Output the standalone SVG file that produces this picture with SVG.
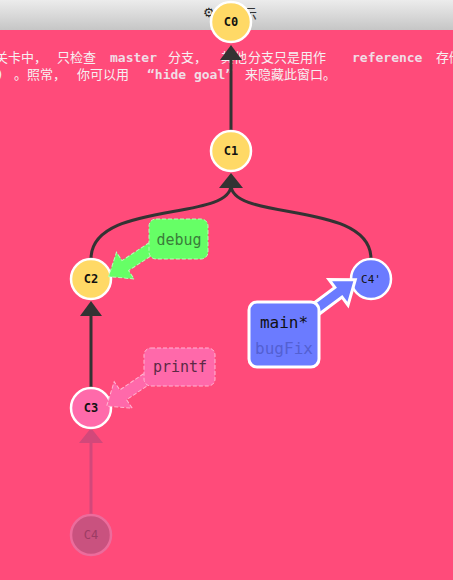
<svg xmlns="http://www.w3.org/2000/svg" width="453" height="580" viewBox="0 0 453 580">
<defs>
<linearGradient id="hdr" x1="0" y1="0" x2="0" y2="1">
<stop offset="0" stop-color="#ececec"/>
<stop offset="1" stop-color="#c6c6c6"/>
</linearGradient>
<style>
.cjk{font-family:"DejaVu Sans Mono","Noto Sans CJK SC",monospace;font-size:13px;fill:#f6f0f2}
.kw{font-family:"DejaVu Sans Mono","Liberation Mono",monospace;font-size:13px;font-weight:bold;fill:#f1dde5}
.edge{stroke:#333;stroke-width:3;fill:none}
.head{fill:#333}
.node{stroke:#fff;stroke-width:2.5}
.nlabel{font-family:"DejaVu Sans Mono","Liberation Mono",monospace;font-size:12px;font-weight:bold;fill:#111;text-anchor:middle}
.blabel{font-family:"DejaVu Sans Mono","Liberation Mono",monospace;font-size:15px;text-anchor:middle}
</style>
</defs>
<rect x="0" y="0" width="453" height="580" fill="#ff4b7a"/>
<rect x="0" y="0" width="453" height="30" fill="url(#hdr)"/>
<text x="203" y="17" font-family="DejaVu Sans" font-size="13" fill="#222">⚙</text>
<text x="229" y="19" font-family="Noto Sans CJK SC,sans-serif" font-size="14" fill="#333">演示</text>

<text class="cjk" y="62"><tspan x="-5">关卡中，</tspan><tspan x="57">只检查</tspan><tspan class="kw" x="110">master</tspan><tspan x="168">分支，</tspan><tspan x="221">其他</tspan><tspan x="248">分支只是用作</tspan><tspan class="kw" x="352">reference</tspan><tspan x="436">存储</tspan></text>
<text class="cjk" y="79"><tspan x="-4">)</tspan><tspan x="14">。照常，</tspan><tspan x="77">你可以用</tspan><tspan class="kw" x="147">“hide goal”</tspan><tspan x="245">来隐藏此窗口。</tspan></text>

<g id="connectors">
<line class="edge" x1="231" y1="131" x2="231" y2="56"/>
<polygon class="head" points="231,45 242,60 220,60"/>
<path class="edge" d="M91,259 C91,200 231,222 231,185"/>
<path class="edge" d="M371,259 C371,200 231,222 231,185"/>
<polygon class="head" points="231,173 243,188 219,188"/>
<line class="edge" x1="91" y1="388" x2="91" y2="312"/>
<polygon class="head" points="91,301 102,316 80,316"/>
<line x1="91" y1="515" x2="91" y2="440" stroke="#d2487a" stroke-width="3"/>
<polygon points="91,428 103,443 79,443" fill="#d2487a"/>
</g>

<g id="C0"><circle class="node" cx="231" cy="22" r="20" fill="#ffd966"/><text class="nlabel" x="231" y="26">C0</text></g>
<g id="C1"><circle class="node" cx="231" cy="151" r="20" fill="#ffd966"/><text class="nlabel" x="231" y="155">C1</text></g>
<g id="C2"><circle class="node" cx="91" cy="279" r="20" fill="#ffd966"/><text class="nlabel" x="91" y="283">C2</text></g>
<g id="C3"><circle class="node" cx="91" cy="408" r="20" fill="#ff6aaa"/><text class="nlabel" x="91" y="412">C3</text></g>
<g id="C4"><circle cx="91" cy="535" r="20" fill="#c9527f" stroke="#ec6c9c" stroke-width="2.5"/><text class="nlabel" x="91" y="539" style="fill:#9c3c64;font-weight:normal">C4</text></g>
<g id="C4p"><circle class="node" cx="371" cy="279" r="20" fill="#6b7bff"/><text class="nlabel" x="371" y="283" style="font-size:11px;font-weight:normal">C4'</text></g>

<g id="debug">
<polygon points="0,-6 32,-6 32,-16 52,0 32,16 32,6 0,6" transform="translate(152,248) rotate(146.6)" fill="#66ff66" stroke="#b6ffb6" stroke-width="1" stroke-dasharray="4,2"/>
<rect x="149" y="219" width="59" height="40" rx="7" fill="#66ff66" stroke="#b6ffb6" stroke-width="1" stroke-dasharray="4,2"/>
<text class="blabel" x="179" y="245" fill="#3a7d3a">debug</text>
</g>

<g id="printf">
<polygon points="0,-6 30,-6 30,-16 50,0 30,16 30,6 0,6" transform="translate(148,378) rotate(145.8)" fill="#ff69aa" stroke="#ffb6d2" stroke-width="1" stroke-dasharray="4,2"/>
<rect x="144" y="348" width="71" height="38" rx="7" fill="#ff69aa" stroke="#ffb6d2" stroke-width="1" stroke-dasharray="4,2"/>
<text class="blabel" x="180" y="372" fill="#5b2a45">printf</text>
</g>

<g id="main">
<polygon points="0,-6 33,-6 33,-16 54,0 33,16 33,6 0,6" transform="translate(312,312) rotate(-36.7)" fill="#6b7bff" stroke="#fff" stroke-width="3"/>
<rect x="249" y="302" width="70" height="65" rx="8" fill="#6b7bff" stroke="#fff" stroke-width="3"/>
<text class="blabel" x="284" y="328" fill="#111" style="font-size:16px">main*</text>
<text class="blabel" x="284" y="354" fill="#5360d2" style="font-size:16px">bugFix</text>
</g>
</svg>
